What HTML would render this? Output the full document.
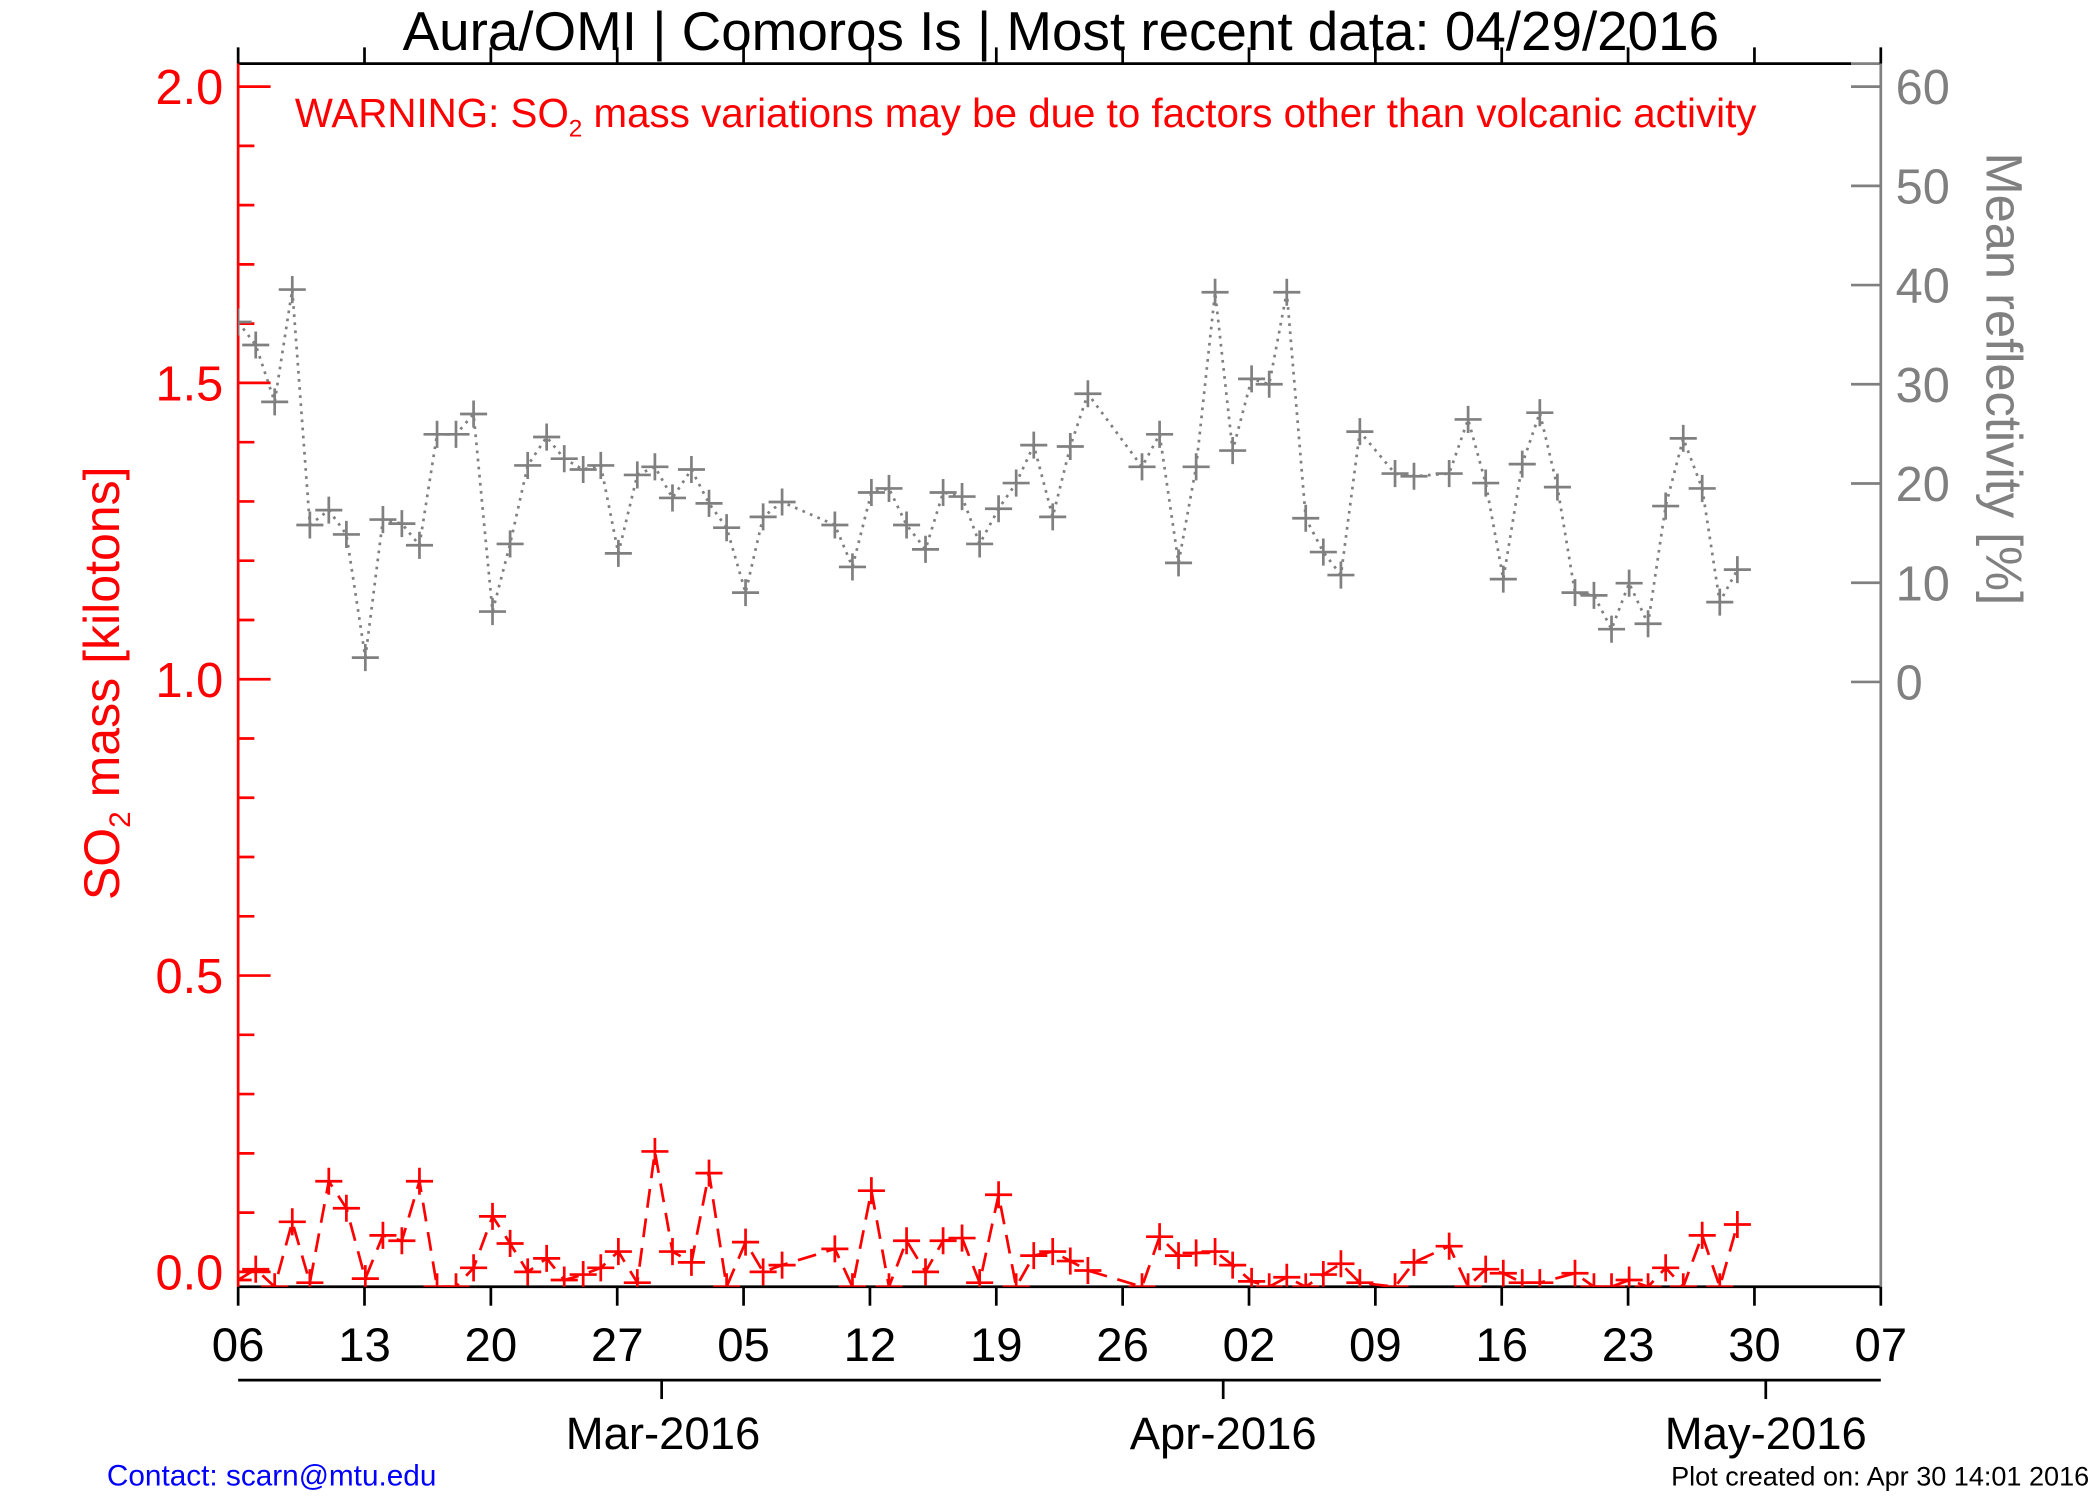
<!DOCTYPE html>
<html><head><meta charset="utf-8"><style>
html,body{margin:0;padding:0;background:#fff;width:2100px;height:1500px;overflow:hidden}
svg{display:block}
text{font-family:"Liberation Sans",sans-serif}
</style></head><body>
<svg id="s" width="2100" height="1500" viewBox="0 0 1552 1108.6" preserveAspectRatio="none" xmlns="http://www.w3.org/2000/svg">
<defs><clipPath id="c"><rect x="176" y="47" width="1214" height="904"/></clipPath></defs>
<g id="g"></g>
<text x="784" y="37" font-size="40.5" text-anchor="middle">Aura/OMI | Comoros Is | Most recent data: 04/29/2016</text>
<text x="758" y="94" font-size="29.8" fill="#f00" text-anchor="middle">WARNING: SO<tspan font-size="18" dy="7">2</tspan><tspan dy="-7"> mass variations may be due to factors other than volcanic activity</tspan></text>
<text transform="translate(88,505) rotate(-90)" font-size="37" fill="#f00" text-anchor="middle">SO<tspan font-size="22" dy="8">2</tspan><tspan dy="-8"> mass [kilotons]</tspan></text>
<text transform="translate(1468,280) rotate(90)" font-size="37.4" fill="#808080" text-anchor="middle">Mean reflectivity [%]</text>
<text x="490" y="1071" font-size="33.6" text-anchor="middle">Mar-2016</text>
<text x="904" y="1071" font-size="33.6" text-anchor="middle">Apr-2016</text>
<text x="1305" y="1071" font-size="33.6" text-anchor="middle">May-2016</text>
<text x="79" y="1098" font-size="22" fill="#00f">Contact: scarn@mtu.edu</text>
<text x="1544" y="1098" font-size="20" text-anchor="end">Plot created on: Apr 30 14:01 2016</text>
</svg>
<script>
const g=document.getElementById('g');let h='';
const L=176,R=1390,T=47,B=951,dpx=(R-L)/91;
h+=`<line x1="${L}" y1="${T}" x2="${1368}" y2="${T}" stroke="#000" stroke-width="2"/>`;
h+=`<line x1="1368" y1="${T}" x2="${R}" y2="${T}" stroke="#808080" stroke-width="2"/>`;
h+=`<line x1="${L}" y1="${B}" x2="${R}" y2="${B}" stroke="#000" stroke-width="2"/>`;
h+=`<line x1="${L}" y1="${T}" x2="${L}" y2="${B}" stroke="#f00" stroke-width="2"/>`;
h+=`<line x1="${R}" y1="${T}" x2="${R}" y2="${B}" stroke="#808080" stroke-width="2"/>`;
const lab=['06','13','20','27','05','12','19','26','02','09','16','23','30','07'];
for(let i=0;i<14;i++){const x=L+i*7*dpx;
h+=`<line x1="${x}" y1="${B}" x2="${x}" y2="${B+14}" stroke="#000" stroke-width="2"/>`;
h+=`<line x1="${x}" y1="${T}" x2="${x}" y2="${T-12}" stroke="#000" stroke-width="2"/>`;
h+=`<text x="${x}" y="${B+55}" font-size="35" text-anchor="middle">${lab[i]}</text>`;}
h+=`<line x1="${L}" y1="1020" x2="${R}" y2="1020" stroke="#000" stroke-width="2"/>`;
[489,904,1305].forEach(x=>h+=`<line x1="${x}" y1="1020" x2="${x}" y2="1034" stroke="#000" stroke-width="2"/>`);
const y0=940,y2=64;for(let i=0;i<=20;i++){const y=y0-(y0-y2)*i/20;const big=i%5==0;
h+=`<line x1="${L}" y1="${y}" x2="${L+(big?24:12)}" y2="${y}" stroke="#f00" stroke-width="2"/>`;
if(big)h+=`<text x="${L-11}" y="${y+13}" font-size="36" fill="#f00" text-anchor="end">${(i/10).toFixed(1)}</text>`;}
for(let i=0;i<=6;i++){const y=504-i*73.33;
h+=`<line x1="${R}" y1="${y}" x2="${R-22}" y2="${y}" stroke="#808080" stroke-width="2"/>`;
h+=`<text x="${R+11}" y="${y+13}" font-size="36" fill="#808080">${i*10}</text>`;}
const gr=[[176,238],[189,255],[203,297],[216,214],[229,388],[243,377],[256,395],[270,486],[283,384],[297,387],[310,403],[323,321],[337,321],[350,306],[364,452],[377,402],[390,344],[404,323],[417,339],[431,347],[444,344],[457,409],[471,351],[484,345],[497,368],[511,347],[524,372],[537,390],[551,438],[564,382],[578,371],[617,388],[630,419],[644,364],[657,361],[670,388],[684,406],[697,364],[711,367],[724,402],[738,376],[751,357],[764,329],[778,382],[791,330],[804,291],[844,345],[857,321],[871,416],[884,345],[898,216],[911,333],[925,280],[938,284],[951,216],[965,383],[978,408],[991,425],[1005,319],[1031,350],[1045,352],[1071,350],[1085,310],[1098,357],[1111,428],[1125,343],[1138,305],[1151,360],[1164,438],[1178,440],[1191,465],[1204,431],[1218,461],[1231,374],[1244,324],[1258,361],[1271,445],[1284,421]];
const rd=[[176,946],[189,938],[203,951],[216,903],[229,948],[243,873],[256,893],[270,945],[283,913],[297,917],[310,873],[323,951],[337,951],[350,937],[364,899],[377,919],[390,940],[404,930],[417,946],[431,942],[444,937],[457,925],[471,948],[484,851],[497,925],[511,933],[524,867],[537,951],[551,918],[564,940],[578,935],[617,923],[630,951],[644,880],[657,951],[670,917],[684,940],[697,917],[711,915],[724,948],[738,883],[751,951],[764,928],[778,925],[791,932],[804,939],[844,951],[857,914],[871,928],[884,926],[898,925],[911,935],[925,947],[938,951],[951,944],[965,951],[978,942],[991,934],[1005,948],[1031,951],[1045,933],[1071,921],[1085,951],[1098,938],[1111,941],[1125,948],[1138,948],[1164,941],[1178,951],[1191,951],[1204,946],[1218,951],[1231,937],[1244,951],[1258,913],[1271,951],[1284,905]];
function ser(d,c,dash){let s=`<g clip-path="url(#c)"><polyline points="${d.map(p=>p.join(',')).join(' ')}" fill="none" stroke="${c}" stroke-width="2" stroke-dasharray="${dash}"/>`;
d.forEach(([x,y])=>s+=`<path d="M${x-10} ${y}H${x+10}M${x} ${y-10}V${y+10}" stroke="${c}" stroke-width="2"/>`);return s+'</g>';}
h+=ser(gr,'#808080','2 4');h+=ser(rd,'#f00','14 8');
g.innerHTML=h;
</script>
</body></html>
